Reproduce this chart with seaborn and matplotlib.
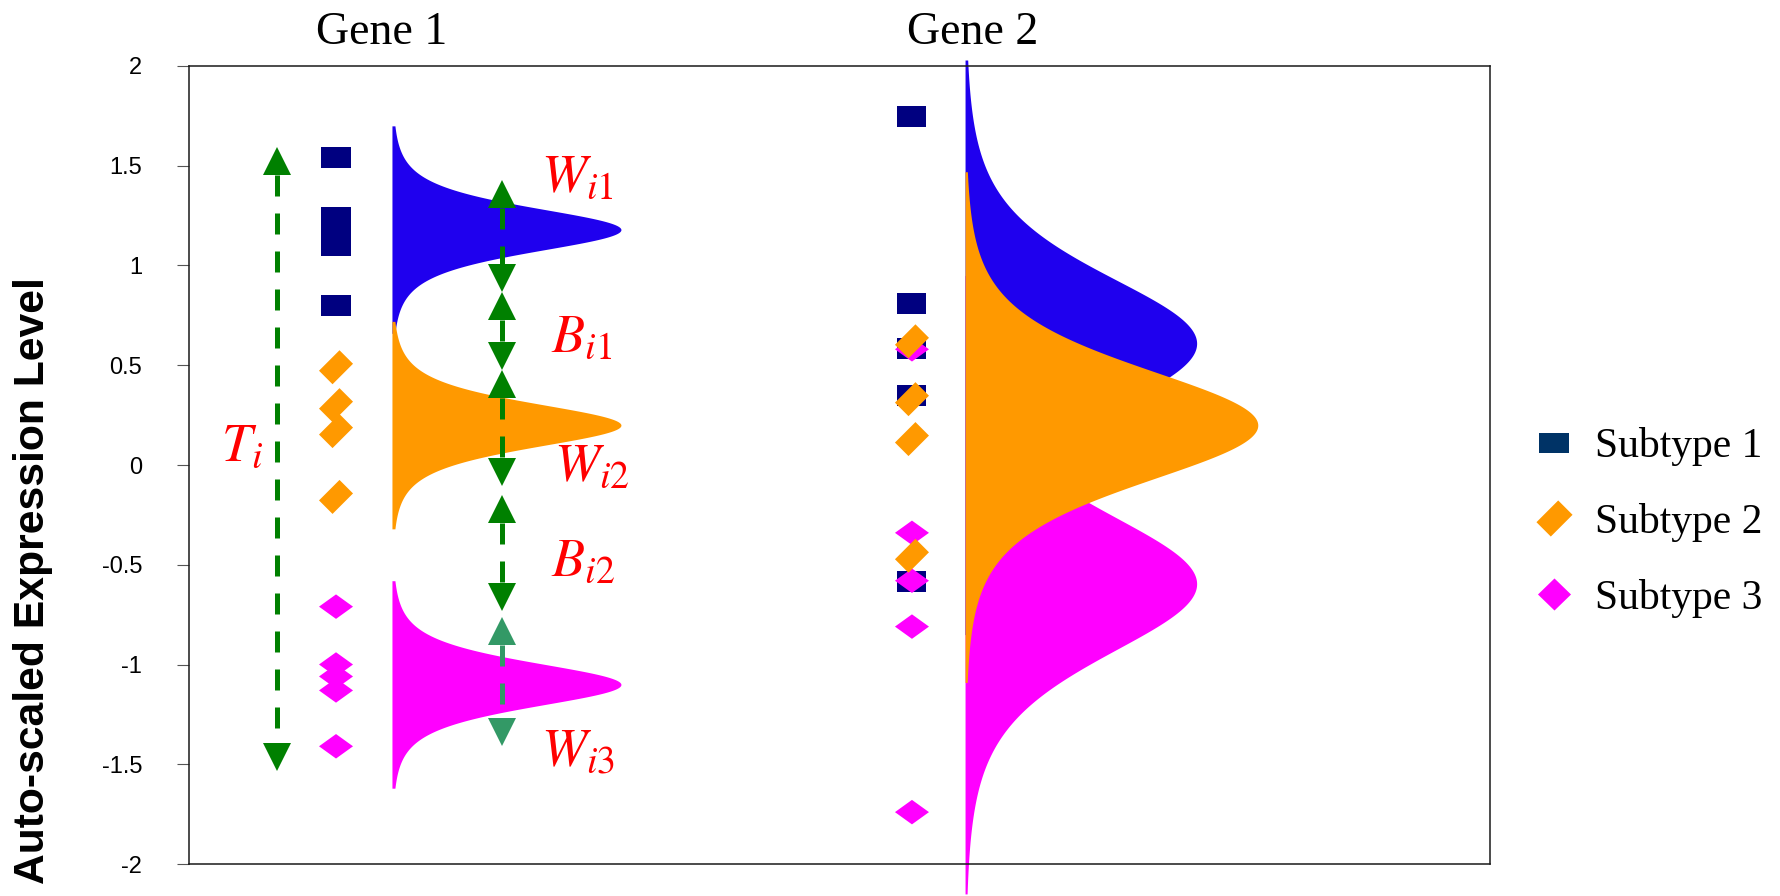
import numpy as np
import pandas as pd
import matplotlib
matplotlib.use("Agg")
import matplotlib.pyplot as plt
from matplotlib.path import Path
from matplotlib.lines import Line2D
import seaborn as sns

# ---------------- data ----------------
subtypes = ["Subtype 1", "Subtype 2", "Subtype 3"]

# observed expression levels per gene and subtype
gene1_subtype1 = [1.54, 1.24, 1.17, 1.10, 0.80]
gene1_subtype2 = [0.49, 0.30, 0.17, -0.16]
gene1_subtype3 = [-0.71, -1.00, -1.06, -1.13, -1.41]
gene2_subtype1 = [1.745, 0.81, 0.585, 0.35, -0.585]
gene2_subtype2 = [0.62, 0.33, 0.13, -0.455]
gene2_subtype3 = [0.58, -0.34, -0.58, -0.81, -1.74]

# class-conditional densities (Student-t shapes): centre, scale, df, y-range
gene1_centers = [1.18, 0.20, -1.10]
gene1_scales = [0.12, 0.12, 0.12]
gene1_df = 4
gene1_limits = [(0.66, 1.70), (-0.32, 0.72), (-1.62, -0.58)]
gene2_centers = [0.61, 0.20, -0.595]
gene2_scales = [0.36, 0.30, 0.375]
gene2_df = 6
gene2_limits = [(-0.85, 2.03), (-1.09, 1.47), (-2.15, 0.95)]

# scatter / density column positions (axes fraction) and density peak widths
gene_marker_x = [0.113, 0.5557]
gene_density_x = [0.156, 0.5965]
gene_title_x = [0.1483, 0.6026]
gene1_peak_widths = [0.176, 0.176, 0.176]
gene2_peak_widths = [0.178, 0.225, 0.178]

# variance arrows: total (T), within (W) and between (B)
arrow_x = [0.068, 0.2404, 0.2404, 0.2404, 0.2404, 0.2404]
arrow_top = [1.594, 1.43, 0.867, 0.478, -0.149, -0.763]
arrow_bottom = [-1.532, 0.867, 0.478, -0.104, -0.73, -1.407]
arrow_colors = ["#008000", "#008000", "#008000", "#008000", "#008000", "#339966"]
arrow_labels = [r"$T_i$", r"$W_{i1}$", r"$B_{i1}$", r"$W_{i2}$", r"$B_{i2}$", r"$W_{i3}$"]
label_x = [0.0245, 0.2705, 0.2785, 0.2805, 0.2785, 0.2705]
label_y = [0.0215, 1.368, 0.566, -0.08, -0.556, -1.509]

y_ticks = [-2, -1.5, -1, -0.5, 0, 0.5, 1, 1.5, 2]
y_tick_labels = ["-2", "-1.5", "-1", "-0.5", "0", "0.5", "1", "1.5", "2"]

marker_colors = {"Subtype 1": "#000080", "Subtype 2": "#FF9900", "Subtype 3": "#FF00FF"}
legend_colors = {"Subtype 1": "#003366", "Subtype 2": "#FF9900", "Subtype 3": "#FF00FF"}
density_colors = ["#1F00EE", "#FF9900", "#FF00FF"]

# ---------------- style ----------------
sns.set_theme(style="white")
plt.rcParams["font.family"] = ["Liberation Sans", "DejaVu Sans"]
plt.rcParams["mathtext.fontset"] = "stix"
plt.rcParams["text.color"] = "black"
plt.rcParams["ytick.labelcolor"] = "black"

rect_marker = Path([(-1, -0.72), (1, -0.72), (1, 0.72), (-1, 0.72), (-1, -0.72)], closed=True)
# rectangle tilted by 45 degrees
_r = np.array([(0.5, 0.33), (-0.5, 0.33), (-0.5, -0.33), (0.5, -0.33), (0.5, 0.33)])
_rot = np.array([[np.sqrt(0.5), np.sqrt(0.5)], [-np.sqrt(0.5), np.sqrt(0.5)]])
tilted_marker = Path(_r @ _rot, closed=True)
flat_diamond = Path([(-1, 0), (0, 0.72), (1, 0), (0, -0.72), (-1, 0)], closed=True)
square_diamond = Path([(-1, 0), (0, 0.97), (1, 0), (0, -0.97), (-1, 0)], closed=True)

markers = {"Subtype 1": rect_marker, "Subtype 2": tilted_marker, "Subtype 3": flat_diamond}
sizes = {"Subtype 1": 437, "Subtype 2": 600, "Subtype 3": 600}

fig = plt.figure(figsize=(17.81, 8.96), dpi=100)
ax = fig.add_axes([189 / 1781, 32 / 896, 1301 / 1781, 798 / 896])
ax.set_xlim(0, 1)
ax.set_ylim(-2, 2)


def t_shape(y, c, s, df):
    return (1.0 + ((y - c) / s) ** 2 / df) ** (-(df + 1) / 2.0)


# densities; subtype 2 sits in front of the others
order = [2, 0, 1]
for g, (cents, scs, dfree, lims, widths) in enumerate([
        (gene1_centers, gene1_scales, gene1_df, gene1_limits, gene1_peak_widths),
        (gene2_centers, gene2_scales, gene2_df, gene2_limits, gene2_peak_widths)]):
    x0 = gene_density_x[g]
    for z, k in enumerate(order):
        yy = np.linspace(lims[k][0], lims[k][1], 600)
        ww = widths[k] * t_shape(yy, cents[k], scs[k], dfree)
        ax.fill_betweenx(yy, x0, x0 + ww, color=density_colors[k], lw=0,
                         zorder=1 + z, clip_on=False)

# observations
rows = []
for sub, g1, g2 in [("Subtype 1", gene1_subtype1, gene2_subtype1),
                    ("Subtype 3", gene1_subtype3, gene2_subtype3),
                    ("Subtype 2", gene1_subtype2, gene2_subtype2)]:
    for v in g1:
        rows.append({"x": gene_marker_x[0], "value": v, "subtype": sub})
    for v in g2:
        rows.append({"x": gene_marker_x[1], "value": v, "subtype": sub})
obs = pd.DataFrame(rows)

sns.scatterplot(data=obs, x="x", y="value", hue="subtype", style="subtype",
                size="subtype", palette=marker_colors, markers=markers,
                sizes=sizes, linewidth=0, legend=False, ax=ax, zorder=5)

# arrows
head_len = 0.1404
for x, top, bot, col in zip(arrow_x, arrow_top, arrow_bottom, arrow_colors):
    ax.plot([x, x], [top - head_len, bot + head_len], color=col, lw=3.6,
            linestyle=(0, (4.2, 3.4)), solid_capstyle="butt", zorder=6)
    ax.plot([x], [top - head_len / 2], marker="^", ms=20.6, color=col,
            mew=0, linestyle="none", zorder=6)
    ax.plot([x], [bot + head_len / 2], marker="v", ms=20.6, color=col,
            mew=0, linestyle="none", zorder=6)

for txt, x, y in zip(arrow_labels, label_x, label_y):
    ax.text(x, y, txt, color="#FF0000", fontsize=39, ha="left", va="baseline", zorder=7)

# gene titles
for name, x in zip(["Gene 1", "Gene 2"], gene_title_x):
    ax.text(x, 1.0276, name, transform=ax.transAxes, ha="center", va="baseline",
            fontsize=33, family="Liberation Serif", color="black")

# axes styling
ax.set_xticks([])
ax.set_yticks(y_ticks)
ax.set_yticklabels(y_tick_labels)
ax.set_xlabel("")
ax.set_ylabel("")
ax.tick_params(axis="y", direction="out", length=9, width=0.8, color="#555555",
               pad=24.8, labelsize=17, left=True, labelcolor="black")
for sp in ax.spines.values():
    sp.set_visible(True)
    sp.set_color("#1a1a1a")
    sp.set_linewidth(1.1)

fig.text(0.0186, 0.3516, "Auto-scaled Expression Level", rotation=90,
         ha="center", va="center", fontsize=30.7, fontweight="bold", color="black")

# legend
legend_markers = {"Subtype 1": (rect_marker, 20.9), "Subtype 2": (tilted_marker, 26.0),
                  "Subtype 3": (square_diamond, 23.8)}
handles = [Line2D([], [], linestyle="none", marker=legend_markers[s][0],
                  ms=legend_markers[s][1], color=legend_colors[s], mew=0) for s in subtypes]
leg = fig.legend(handles, subtypes, loc="center left", bbox_to_anchor=(0.861, 0.417),
                 frameon=False, borderpad=0, borderaxespad=0, handlelength=1.0,
                 handletextpad=0.48, labelspacing=0.88,
                 prop={"family": "Liberation Serif", "size": 30})
for t in leg.get_texts():
    t.set_color("black")

fig.savefig("out.png", dpi=100)
